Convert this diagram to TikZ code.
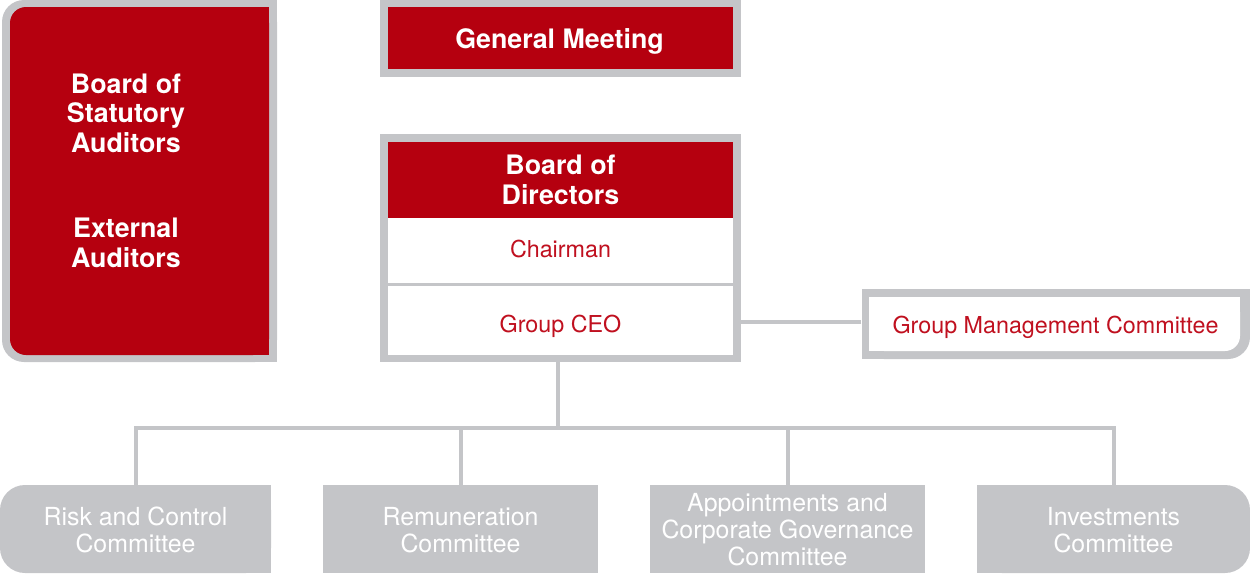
\documentclass[tikz,border=0pt]{standalone}
\usepackage{fontspec}
\setmainfont{TeX Gyre Heros}
\definecolor{brand}{HTML}{B5000F}
\definecolor{frame}{HTML}{C4C5C8}
\definecolor{redtxt}{HTML}{C0101F}
\begin{document}
\begin{tikzpicture}[x=1pt,y=-1pt,
  boldtxt/.style={text=white, font=\fontsize{26.8}{29.5}\selectfont\bfseries, align=center, inner sep=0pt},
  redline/.style={text=redtxt, font=\fontsize{23.3}{27}\selectfont, anchor=base, inner sep=0pt},
  comtxt/.style={text=white, font=\fontsize{24.9}{27}\selectfont, align=center, inner sep=0pt, minimum height=90pt},
  conn/.style={draw=frame, line width=4pt}]
\useasboundingbox (0,0) rectangle (1250,573);
\clip (0,0) rectangle (1250,573);

% left box: statutory and external auditors
\fill[frame, rounded corners=22pt] (2,0) rectangle (277,362);
\fill[frame] (150,0) rectangle (277,362);
\fill[brand, rounded corners=16pt] (10,7) rectangle (269,355);
\fill[brand] (150,7) rectangle (269,355);
\node[boldtxt] (bsa) at (126,113) {Board of\\Statutory\\Auditors};
\node[boldtxt] (ext) at (126,243) {External\\Auditors};

% general meeting
\node[fill=frame, minimum width=361pt, minimum height=77pt, inner sep=0pt] (gm) at (560.5,38.5) {};
\fill[brand] (388,7) rectangle (733,69);
\node[boldtxt, anchor=base] (gmt) at (559.5,48.3) {General Meeting};

% board of directors
\node[fill=frame, minimum width=361pt, minimum height=228pt, inner sep=0pt] (bod) at (560.5,248) {};
\fill[white] (388,142) rectangle (733,355);
\fill[brand] (388,142) rectangle (733,218);
\fill[frame] (388,283) rectangle (733,286);
\node[boldtxt] (bodt) at (560.5,180) {Board of\\Directors};
\node[redline] (chair) at (560.5,257.3) {Chairman};
\node[redline] (ceo) at (560.5,332.3) {Group CEO};

% group management committee
\fill[frame, rounded corners=22pt] (862,289) rectangle (1250,359);
\fill[frame] (862,289) rectangle (1200,359);
\fill[frame] (1200,289) rectangle (1250,330);
\fill[white, rounded corners=15pt] (869,297) rectangle (1240,351);
\fill[white] (869,297) rectangle (1210,351);
\fill[white] (1210,297) rectangle (1240,330);
\node[minimum width=388pt, minimum height=70pt, inner sep=0pt, text=redtxt,
      font=\fontsize{23.3}{27}\selectfont, text height=16.7pt, text depth=0pt] (gmc) at (1055.5,325) {Group Management Committee};
\draw[conn] ([yshift=3.5pt]gmc.west) -- ([yshift=3.5pt]gmc.west -| bod.east);

% committees
\fill[frame, rounded corners=25pt] (0,485) rectangle (271,573);
\fill[frame] (100,485) rectangle (271,573);
\fill[frame] (323,485) rectangle (598,573);
\fill[frame] (650,485) rectangle (925,573);
\fill[frame, rounded corners=25pt] (977,485) rectangle (1250,573);
\fill[frame] (977,485) rectangle (1150,573);
\node[comtxt, minimum width=271pt] (rc) at (135.5,530) {Risk and Control\\Committee};
\node[comtxt, minimum width=275pt] (rem) at (460.5,530) {Remuneration\\Committee};
\node[comtxt, minimum width=275pt] (apc) at (787.5,530) {Appointments and\\Corporate Governance\\Committee};
\node[comtxt, minimum width=273pt] (inv) at (1113.5,530) {Investments\\Committee};

\coordinate (hub) at (558,428);
\draw[conn] (hub |- bod.south) -- (hub);
\draw[conn] (rc.north) |- (hub) -| (inv.north);
\draw[conn] (rem.north) -- (rem.north |- hub);
\draw[conn] (apc.north) -- (apc.north |- hub);
\end{tikzpicture}
\end{document}
